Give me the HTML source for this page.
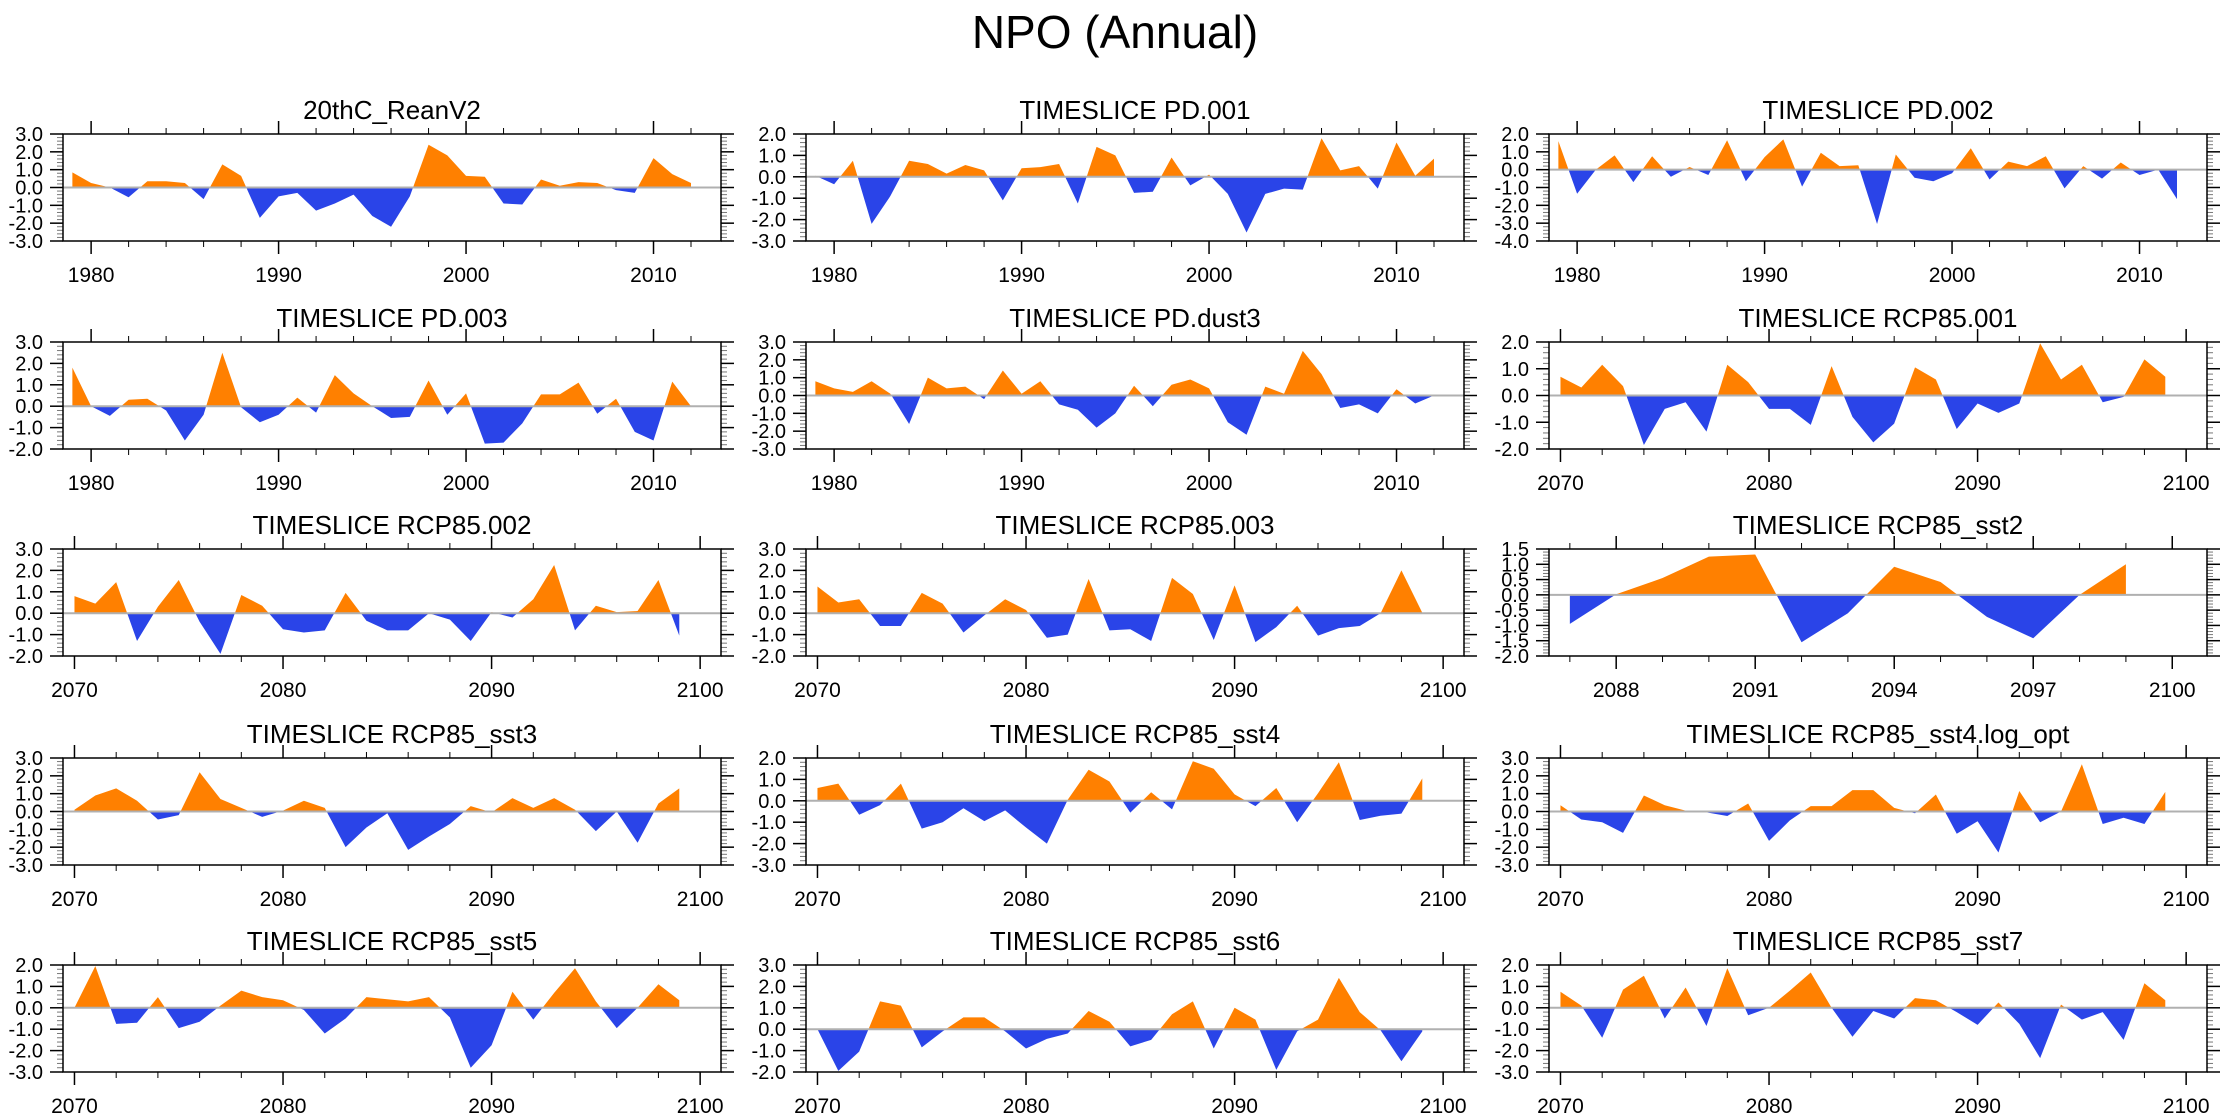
<!DOCTYPE html>
<html><head><meta charset="utf-8"><title>NPO (Annual)</title>
<style>
html,body{margin:0;padding:0;background:#fff;}
svg{display:block;font-family:"Liberation Sans",Arial,sans-serif;}
</style></head>
<body>
<svg id="chart" width="2230" height="1120" viewBox="0 0 2230 1120" xmlns="http://www.w3.org/2000/svg">
<rect width="2230" height="1120" fill="#fff"/>
<text x="1115" y="48" text-anchor="middle" font-size="46" fill="#000">NPO (Annual)</text>
</svg>
<script>
const titles = ["20thC_ReanV2","TIMESLICE PD.001","TIMESLICE PD.002","TIMESLICE PD.003","TIMESLICE PD.dust3","TIMESLICE RCP85.001","TIMESLICE RCP85.002","TIMESLICE RCP85.003","TIMESLICE RCP85_sst2","TIMESLICE RCP85_sst3","TIMESLICE RCP85_sst4","TIMESLICE RCP85_sst4.log_opt","TIMESLICE RCP85_sst5","TIMESLICE RCP85_sst6","TIMESLICE RCP85_sst7"];
const startYears = [1979,1979,1979,1979,1979,2070,2070,2070,2087,2070,2070,2070,2070,2070,2070];
const yMaxs = [3,2,2,3,3,2,3,3,1.5,3,2,3,2,3,2];
const yMins = [-3,-3,-4,-2,-3,-2,-2,-2,-2,-3,-3,-3,-3,-2,-3];

const s20thC = [0.85,0.25,0.0,-0.55,0.35,0.35,0.25,-0.65,1.3,0.65,-1.7,-0.5,-0.3,-1.3,-0.9,-0.4,-1.6,-2.2,-0.5,2.4,1.8,0.65,0.6,-0.9,-0.95,0.45,0.1,0.3,0.25,-0.15,-0.3,1.65,0.75,0.25];
const sPD001 = [0.05,-0.35,0.75,-2.2,-0.9,0.75,0.6,0.15,0.55,0.3,-1.1,0.4,0.45,0.6,-1.25,1.4,1.0,-0.75,-0.7,0.9,-0.4,0.1,-0.8,-2.6,-0.8,-0.55,-0.6,1.8,0.3,0.5,-0.55,1.6,0.05,0.85];
const sPD002 = [1.6,-1.35,0.0,0.8,-0.7,0.75,-0.4,0.15,-0.3,1.65,-0.65,0.7,1.7,-0.95,0.95,0.2,0.25,-3.05,0.85,-0.45,-0.65,-0.2,1.2,-0.55,0.45,0.2,0.75,-1.05,0.2,-0.5,0.4,-0.3,0.0,-1.65];
const sPD003 = [1.8,0.0,-0.45,0.3,0.35,-0.2,-1.6,-0.4,2.5,-0.05,-0.75,-0.4,0.4,-0.3,1.45,0.6,0.0,-0.55,-0.5,1.2,-0.4,0.6,-1.75,-1.7,-0.8,0.55,0.55,1.1,-0.35,0.35,-1.2,-1.6,1.15,0.0];
const sPDdust3 = [0.8,0.4,0.2,0.8,0.1,-1.6,1.0,0.4,0.5,-0.2,1.4,0.1,0.8,-0.5,-0.8,-1.8,-1.0,0.55,-0.6,0.6,0.9,0.4,-1.5,-2.2,0.5,0.1,2.5,1.2,-0.7,-0.5,-1.0,0.35,-0.45,0.0];
const sRCP001 = [0.7,0.3,1.15,0.35,-1.85,-0.5,-0.25,-1.35,1.15,0.5,-0.5,-0.5,-1.1,1.1,-0.8,-1.75,-1.05,1.05,0.6,-1.25,-0.3,-0.65,-0.3,1.95,0.6,1.15,-0.25,-0.05,1.35,0.7];
const sRCP002 = [0.8,0.45,1.45,-1.3,0.3,1.55,-0.4,-1.9,0.85,0.35,-0.75,-0.9,-0.8,0.95,-0.35,-0.8,-0.8,0.0,-0.3,-1.3,0.05,-0.2,0.65,2.25,-0.8,0.35,0.05,0.1,1.55,-1.05];
const sRCP003 = [1.25,0.5,0.65,-0.6,-0.6,0.95,0.45,-0.9,-0.1,0.65,0.15,-1.15,-1.0,1.6,-0.8,-0.75,-1.3,1.65,0.9,-1.25,1.3,-1.35,-0.65,0.35,-1.05,-0.7,-0.6,0.0,2.0,0.02];
const sSST2 = [-0.95,0.02,0.55,1.25,1.32,-1.55,-0.6,0.92,0.42,-0.72,-1.42,0.0,1.0];
const sSST3 = [0.1,0.9,1.3,0.6,-0.45,-0.2,2.2,0.7,0.2,-0.3,0.05,0.6,0.2,-2.0,-0.9,-0.1,-2.15,-1.4,-0.7,0.3,-0.05,0.75,0.2,0.75,0.1,-1.1,0.0,-1.75,0.45,1.3];
const sSST4 = [0.6,0.8,-0.65,-0.2,0.8,-1.3,-1.0,-0.35,-0.95,-0.45,-1.25,-2.0,0.05,1.45,0.9,-0.55,0.4,-0.4,1.85,1.5,0.3,-0.25,0.6,-1.0,0.35,1.8,-0.9,-0.7,-0.6,1.05];
const sSST4log = [0.35,-0.45,-0.6,-1.2,0.9,0.35,0.05,-0.05,-0.25,0.45,-1.65,-0.5,0.3,0.3,1.2,1.2,0.2,-0.1,0.95,-1.25,-0.55,-2.3,1.15,-0.6,0.0,2.65,-0.7,-0.35,-0.7,1.1];
const sSST5 = [0.0,1.95,-0.75,-0.7,0.5,-0.95,-0.65,0.1,0.8,0.5,0.35,-0.1,-1.2,-0.5,0.5,0.4,0.3,0.5,-0.45,-2.8,-1.75,0.75,-0.55,0.7,1.85,0.3,-0.95,0.0,1.1,0.35];
const sSST6 = [0.0,-1.95,-1.05,1.3,1.1,-0.85,-0.1,0.55,0.55,-0.1,-0.9,-0.45,-0.2,0.85,0.35,-0.8,-0.5,0.7,1.3,-0.9,1.0,0.45,-1.9,-0.1,0.45,2.4,0.8,-0.05,-1.5,-0.1];
const sSST7 = [0.75,0.1,-1.4,0.85,1.5,-0.5,0.95,-0.85,1.85,-0.35,0.0,0.8,1.65,0.0,-1.35,-0.15,-0.5,0.45,0.35,-0.2,-0.8,0.25,-0.75,-2.35,0.15,-0.55,-0.2,-1.5,1.15,0.35];

const allSeries = [s20thC,sPD001,sPD002,sPD003,sPDdust3,sRCP001,sRCP002,sRCP003,sSST2,sSST3,sSST4,sSST4log,sSST5,sSST6,sSST7];

const NS = "http://www.w3.org/2000/svg";
const svg = document.getElementById("chart");
const colLeft = [63, 806, 1549];
const rowTop = [134, 342, 549, 758, 965];
const boxW = 658, boxH = 107;

function mk(tag, attrs, parent) {
  const e = document.createElementNS(NS, tag);
  for (const k in attrs) e.setAttribute(k, attrs[k]);
  parent.appendChild(e);
  return e;
}
function fmt(v) { return v.toFixed(1); }

for (let p = 0; p < 15; p++) {
  const L = colLeft[p % 3], T = rowTop[Math.floor(p / 3)];
  const R = L + boxW, B = T + boxH;
  const s0 = startYears[p], vals = allSeries[p];
  const isPD = s0 < 2000, isS2 = s0 === 2087;
  const x0 = isPD ? 1978.5 : (isS2 ? 2086.55 : 2069.45);
  const x1 = isPD ? 2013.6 : (isS2 ? 2100.75 : 2101.0);
  const ymax = yMaxs[p], ymin = yMins[p];
  const xs = v => L + (v - x0) / (x1 - x0) * boxW;
  const ys = v => T + (ymax - v) / (ymax - ymin) * boxH;

  const g = mk("g", {}, svg);
  
  

  const t = mk("text", {x: (L + R) / 2, y: T - 15, "text-anchor": "middle", "font-size": 26, fill: "#000"}, g);
  
  
  t.textContent = titles[p];

  const cidU = "cu" + p, cidD = "cd" + p;
  const defs = mk("defs", {}, g);
  const cu = mk("clipPath", {id: cidU}, defs);
  mk("rect", {x: L, y: T, width: boxW, height: ys(0) - T}, cu);
  const cd = mk("clipPath", {id: cidD}, defs);
  mk("rect", {x: L, y: ys(0), width: boxW, height: B - ys(0)}, cd);
  let pts = xs(s0) + "," + ys(0) + " ";
  vals.forEach((v, i) => { pts += xs(s0 + i) + "," + ys(v) + " "; });
  pts += xs(s0 + vals.length - 1) + "," + ys(0);
  const pu = mk("polygon", {points: pts, fill: "#ff8000", "clip-path": "url(#" + cidU + ")"}, g);
  
  
  const pd = mk("polygon", {points: pts, fill: "#2a44e8", "clip-path": "url(#" + cidD + ")"}, g);
  
  

  const zl = mk("line", {x1: L, x2: R, y1: ys(0), y2: ys(0), stroke: "#b0b0b0", "stroke-width": 2}, g);
  
  

  const ystep = isS2 ? 0.5 : 1.0, ymin2 = isS2 ? 0.1 : 0.2;
  const nMin = Math.round((ymax - ymin) / ymin2);
  for (let k = 0; k <= nMin; k++) {
    const v = ymin + k * ymin2, y = ys(v);
    const major = Math.abs(v / ystep - Math.round(v / ystep)) < 1e-6;
    const len = major ? 13 : 6;
    mk("line", {x1: L - len, x2: L, y1: y, y2: y, stroke: major ? "#000" : "#777", "stroke-width": major ? 1.5 : 1}, g);
    mk("line", {x1: R, x2: R + len, y1: y, y2: y, stroke: major ? "#000" : "#777", "stroke-width": major ? 1.5 : 1}, g);
    if (major) {
      const lb = mk("text", {x: L - 20, y: y + 7, "text-anchor": "end", "font-size": 20, fill: "#000"}, g);
      
      
      lb.textContent = fmt(v);
    }
  }
  const majStep = isS2 ? 3 : 10, minStep = isS2 ? 1 : 2;
  const firstYr = Math.ceil(x0), lastYr = Math.floor(x1);
  for (let yr = firstYr; yr <= lastYr; yr++) {
    if (yr % minStep !== 0 && !isS2) continue;
    const major = isS2 ? (yr - 2088) % 3 === 0 : yr % majStep === 0;
    const len = major ? 13 : 6, x = xs(yr);
    mk("line", {x1: x, x2: x, y1: B, y2: B + len, stroke: "#000", "stroke-width": major ? 1.5 : 1}, g);
    mk("line", {x1: x, x2: x, y1: T - len, y2: T, stroke: "#000", "stroke-width": major ? 1.5 : 1}, g);
    if (major) {
      const lb = mk("text", {x: x, y: B + 41, "text-anchor": "middle", "font-size": 21, fill: "#000"}, g);
      
      
      lb.textContent = yr;
    }
  }
  const box = mk("rect", {x: L, y: T, width: boxW, height: boxH, fill: "none", stroke: "#000", "stroke-width": 1.5}, g);
  
  
}
</script>
</body></html>
